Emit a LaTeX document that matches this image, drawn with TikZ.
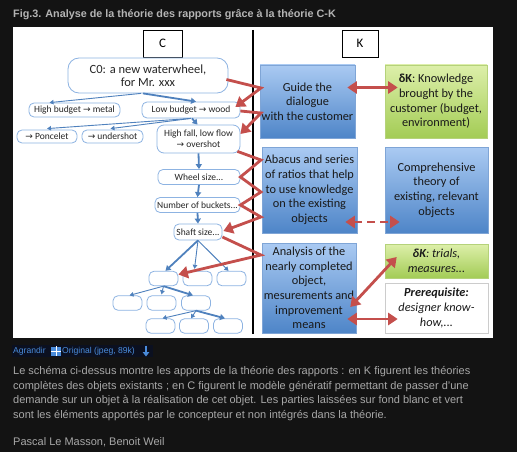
\documentclass[tikz,border=0pt]{standalone}
\usepackage{fontspec}
\setmainfont{Carlito}
\newfontfamily\capfont{Liberation Sans}
\newfontfamily\symfont{DejaVu Sans}
\usetikzlibrary{arrows.meta,calc}
\definecolor{bg}{HTML}{131313}
\definecolor{titlegray}{HTML}{B4B4B4}
\definecolor{capgray}{HTML}{A8A8A8}
\definecolor{capblue}{HTML}{4A8CDB}
\definecolor{hilite}{HTML}{0B1020}
\definecolor{cborder}{HTML}{8DB3E2}
\definecolor{cblue}{HTML}{4F81BD}
\definecolor{kred}{HTML}{C44F4C}
\definecolor{kbluetop}{HTML}{AACAF2}
\definecolor{kbluebot}{HTML}{4E85C8}
\definecolor{kbord}{HTML}{7FA5D6}
\definecolor{kgreentop}{HTML}{DDEFAA}
\definecolor{kgreenbot}{HTML}{A3CC55}
\definecolor{kgbord}{HTML}{B5D27A}
\newcommand\myarr{{\symfont\fontsize{9}{9}\selectfont →}}
\begin{document}
\begin{tikzpicture}[x=1pt,y=-1pt,
  hdr/.style={draw=black, line width=0.8pt, fill=white, minimum height=27pt, inner sep=0pt, font=\fontsize{13}{15}\selectfont},
  cnode/.style={draw=cborder, fill=white, rounded corners=5pt, line width=0.8pt, inner sep=0pt, align=center, text=black!85, font=\fontsize{9.5}{11}\selectfont},
  tnode/.style={cnode, minimum width=29pt, minimum height=14.5pt},
  barr/.style={draw=cblue, line width=0.9pt, -{Triangle[width=4.5pt,length=4pt]}},
  barrthick/.style={draw=cblue, line width=1.8pt, -{Triangle[width=6pt,length=5pt]}},
  kbox/.style={draw=kbord, line width=0.6pt, top color=kbluetop, bottom color=kbluebot, inner sep=0pt, align=center, text=black!90, font=\fontsize{12.3}{14.7}\selectfont},
  gbox/.style={kbox, draw=kgbord, top color=kgreentop, bottom color=kgreenbot},
  redline/.style={draw=kred, line width=2.8pt, line join=miter},
  redarr/.style={redline, -{Triangle[width=12pt,length=9.5pt]}},
  reddbl/.style={redline, {Triangle[width=12pt,length=9.5pt]}-{Triangle[width=12pt,length=9.5pt]}}
]
\fill[bg] (0,0) rectangle (517,452);
\useasboundingbox (0,0) rectangle (517,452);
\fill[white] (13,27) rectangle (493,338);

% title
\node[anchor=base west, inner sep=0pt, text=titlegray, font=\capfont\bfseries\fontsize{10.8}{12}\selectfont] (title) at (13,18) {Fig.3. Analyse de la théorie des rapports grâce à la théorie C-K};

% headers and divider
\node[hdr, minimum width=39pt] (chdr) at (162.5,43.5) {C};
\node[hdr, minimum width=36pt] (khdr) at (360,43.5) {K};
\coordinate (dtop) at (253,30);
\coordinate (dbot) at (253,334);
\draw[line width=1.2pt] (dtop) -- (dbot);

% C side nodes
\node[cnode, minimum width=160pt, minimum height=35pt, rounded corners=11pt, font=\fontsize{12.5}{13.5}\selectfont] (c0) at (148,75.5) {C0: a new waterwheel,\\for Mr. xxx};
\node[cnode, minimum width=91pt, minimum height=14pt] (hb) at (74.5,110) {High budget \myarr{} metal};
\node[cnode, minimum width=98pt, minimum height=16pt] (lb) at (191,110) {Low budget \myarr{} wood};
\node[cnode, minimum width=60pt, minimum height=13pt] (pon) at (47,136.5) {\myarr{} Poncelet};
\node[cnode, minimum width=61pt, minimum height=13pt] (und) at (112.5,136.5) {\myarr{} undershot};
\node[cnode, minimum width=83pt, minimum height=28pt, rounded corners=7pt] (hf) at (198.5,139) {High fall, low flow\\\myarr{} overshot};
\node[cnode, minimum width=82pt, minimum height=15pt] (ws) at (199,177) {Wheel size...};
\node[cnode, minimum width=85pt, minimum height=15pt] (nb) at (197.5,205) {Number of buckets...};
\node[cnode, minimum width=48pt, minimum height=16pt] (ss) at (198,232) {Shaft size...};
\node[tnode] (t1a) at (163.5,278.5) {};
\node[tnode] (t1b) at (197.5,278.5) {};
\node[tnode] (t1c) at (231.5,278.5) {};
\node[tnode] (t2a) at (127.5,303) {};
\node[tnode] (t2b) at (161.5,303) {};
\node[tnode] (t2c) at (196,303) {};
\node[tnode] (t3a) at (160.5,326) {};
\node[tnode] (t3b) at (194,326) {};
\node[tnode] (t3c) at (228,326) {};

% blue arrows
\draw[barr] ($(c0.south)+(-7,0)$) -- ($(hb.north)+(-25,0)$);
\draw[barrthick] ($(c0.south)+(-5,0)$) -- ($(lb.north)+(5,0)$);
\draw[barr] ($(lb.south)+(0,0)$) -- ($(pon.north)+(0,-1)$);
\draw[barr] ($(lb.south)+(0,0)$) -- ($(und.north)+(-2,-1)$);
\draw[barrthick] ($(lb.south)+(1,0)$) -- ($(hf.north)+(-1,0)$);
\draw[barrthick] (hf.south) -- (ws.north);
\draw[barrthick] (ws.south) -- (nb.north);
\draw[barrthick] (nb.south) -- (ss.north);
\draw[barrthick] (ss.south) -- ($(t1a.north)+(2,0)$);
\draw[barr] (ss.south) -- ($(t1b.north)+(-3,-2)$);
\draw[barr] (ss.south) -- ($(t1c.north)+(-3,0)$);
\draw[barr] (t1a.south) -- ($(t2a.north)+(2,0)$);
\draw[barr] (t1a.south) -- ($(t2b.north)+(0,-1)$);
\draw[barrthick] (t1a.south) -- ($(t2c.north)+(-3,0)$);
\draw[barr] (t2c.south) -- ($(t3a.north)+(2,0)$);
\draw[barr] (t2c.south) -- ($(t3b.north)+(-3,0)$);
\draw[barrthick] (t2c.south) -- ($(t3c.north)+(-3,0)$);

% K side boxes
\node[kbox, minimum width=95pt, minimum height=73pt] (guide) at (307.5,101.5) {Guide the\\dialogue\\with the customer};
\node[gbox, minimum width=102pt, minimum height=73pt] (dk1) at (436,101.5) {\textbf{δK}: Knowledge\\brought by the\\customer (budget,\\environment)};
\node[kbox, minimum width=95pt, minimum height=86pt] (abacus) at (309.5,190) {Abacus and series\\of ratios that help\\to use knowledge\\on the existing\\objects};
\node[kbox, minimum width=103pt, minimum height=86pt] (comp) at (436.5,190) {Comprehensive\\theory of\\existing, relevant\\objects};
\node[kbox, minimum width=94pt, minimum height=90pt] (anal) at (309,288) {Analysis of the\\nearly completed\\object,\\mesurements and\\improvement\\means};
\node[gbox, minimum width=103pt, minimum height=34pt] (dkt) at (436.5,261) {\textit{\textbf{δK}: trials,}\\\textit{measures...}};
\node[kbox, draw=black!20, top color=white, bottom color=white, minimum width=103pt, minimum height=50pt] (pre) at (436.5,308) {\textbf{\textit{Prerequisite:}}\\\textit{designer know-}\\\textit{how,...}};

% red connectors
\coordinate (g1) at (261,88);
\coordinate (g2) at (261,113);
\coordinate (a1) at (261,160);
\coordinate (a2) at (261,192);
\coordinate (a3) at (261,217);
\coordinate (n1) at (261,255);
\draw[redarr] ($(c0.east)+(-2,4)$) -- (g1) -- ($(lb.east)+(-5,-3)$);
\draw[redarr] ($(lb.east)+(0,1)$) -- (g2) -- ($(hf.east)+(0,-5)$);
\draw[redarr] ($(hf.south east)+(-3,-2)$) -- (a1) -- (ws.east) -- (a2) -- (nb.east) -- (a3) -- ($(ss.east)+(1,-1)$);
\draw[redarr] ($(ss.east)+(0,5)$) -- (n1) -- ($(t1a.east)+(0,-4)$);
\draw[reddbl] ($(guide.east)+(-8,-14)$) -- ($(dk1.west)+(13,-14)$);
\draw[reddbl, dash pattern=on 8pt off 5pt] ($(abacus.east)+(-12,32)$) -- ($(comp.west)+(15,32)$);
\draw[reddbl] ($(anal.east)+(-6,19)$) -- ($(dkt.west)+(12,-4)$);
\draw[reddbl] ($(anal.east)+(-9,31)$) -- ($(pre.west)+(13,11)$);

% caption row
\fill[hilite] (12,345) rectangle (153,357);
\node[anchor=base west, inner sep=0pt, text=capblue, font=\capfont\fontsize{8.6}{10}\selectfont] (agr) at (13,353.5) {Agrandir};
\node[fill=capblue, minimum width=10pt, minimum height=9pt, inner sep=0pt] (icon) at (56,351) {};
\draw[white, line width=1pt] (icon.north) -- (icon.south);
\draw[white, line width=1pt] (icon.west) -- (icon.east);
\node[anchor=base west, inner sep=0pt, text=capblue, font=\capfont\fontsize{8.6}{10}\selectfont] (orig) at (62,353.5) {Original (jpeg, 89k)};
\coordinate (da1) at (146,345.5);
\coordinate (da2) at (146,356.5);
\draw[capblue, line width=1.8pt, -{Triangle[width=6.5pt,length=4.5pt]}] (da1) -- (da2);

% paragraph
\begin{scope}[every node/.style={anchor=base west, inner sep=0pt, text=capgray, font=\capfont\fontsize{11}{13}\selectfont}]
\node (p1) at (13,374) {Le schéma ci-dessus montre les apports de la théorie des rapports : en K figurent les théories};
\node (p2) at (13,389) {complètes des objets existants ; en C figurent le modèle génératif permettant de passer d’une};
\node (p3) at (13,403.5) {demande sur un objet à la réalisation de cet objet. Les parties laissées sur fond blanc et vert};
\node (p4) at (13,418) {sont les éléments apportés par le concepteur et non intégrés dans la théorie.};
\node (p5) at (13,445) {Pascal Le Masson, Benoit Weil};
\end{scope}
\end{tikzpicture}
\end{document}
